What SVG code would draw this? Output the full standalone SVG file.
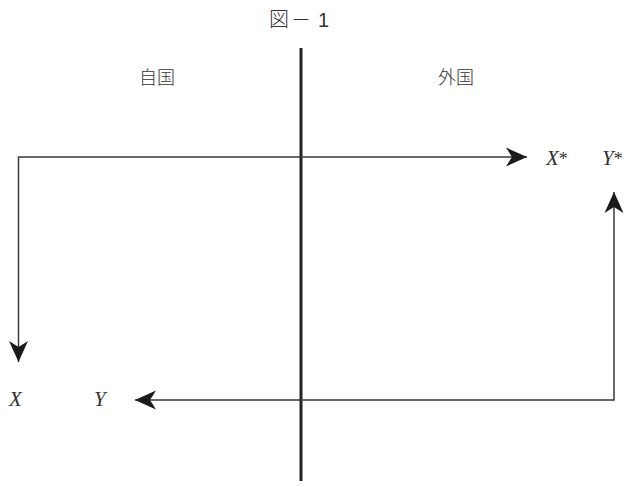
<svg xmlns="http://www.w3.org/2000/svg" width="626" height="487" viewBox="0 0 626 487">
<defs>
<marker id="ah" markerUnits="userSpaceOnUse" markerWidth="24" markerHeight="22" viewBox="-22 -11 24 22" refX="0" refY="0" orient="auto-start-reverse" overflow="visible">
<path d="M0,0 L-21,-9.5 L-15,0 L-21,9.5 Z" fill="#1a1a1a"/>
</marker>
<style>
.cn{fill:none;stroke:#3a3a3a;stroke-width:1.5;marker-start:url(#ah);marker-end:url(#ah)}
.jp{font-family:"Noto Sans CJK JP","Noto Sans",sans-serif;font-size:18px;font-weight:300;fill:#333}
.var{font-family:"Liberation Serif","DejaVu Serif",serif;font-style:italic;font-size:21px;fill:#333}
.st{font-style:normal;font-size:18px}
</style>
</defs>
<rect width="626" height="487" fill="#fff"/>
<g id="title">
<text class="jp" x="269" y="27" style="font-size:20px">図</text>
<text class="jp" x="291" y="27" style="font-size:20px">－</text>
<text x="318" y="27" style="font-family:'Liberation Sans',sans-serif;font-size:20px;fill:#333">1</text>
</g>
<g id="divider"><line x1="301" y1="48" x2="301" y2="481" stroke="#222" stroke-width="3"/></g>
<g id="home"><text class="jp" x="157" y="84" text-anchor="middle">自国</text></g>
<g id="foreign"><text class="jp" x="456" y="84" text-anchor="middle">外国</text></g>
<g id="connectors">
<path class="cn" d="M527,157 H18.5 V362"/>
<path class="cn" d="M614,192 V400 H135"/>
</g>
<g id="xstar"><text class="var" x="546" y="165">X<tspan class="st">*</tspan></text></g>
<g id="ystar"><text class="var" x="602" y="165">Y<tspan class="st">*</tspan></text></g>
<g id="x"><text class="var" x="9" y="406">X</text></g>
<g id="y"><text class="var" x="94" y="406">Y</text></g>
</svg>
